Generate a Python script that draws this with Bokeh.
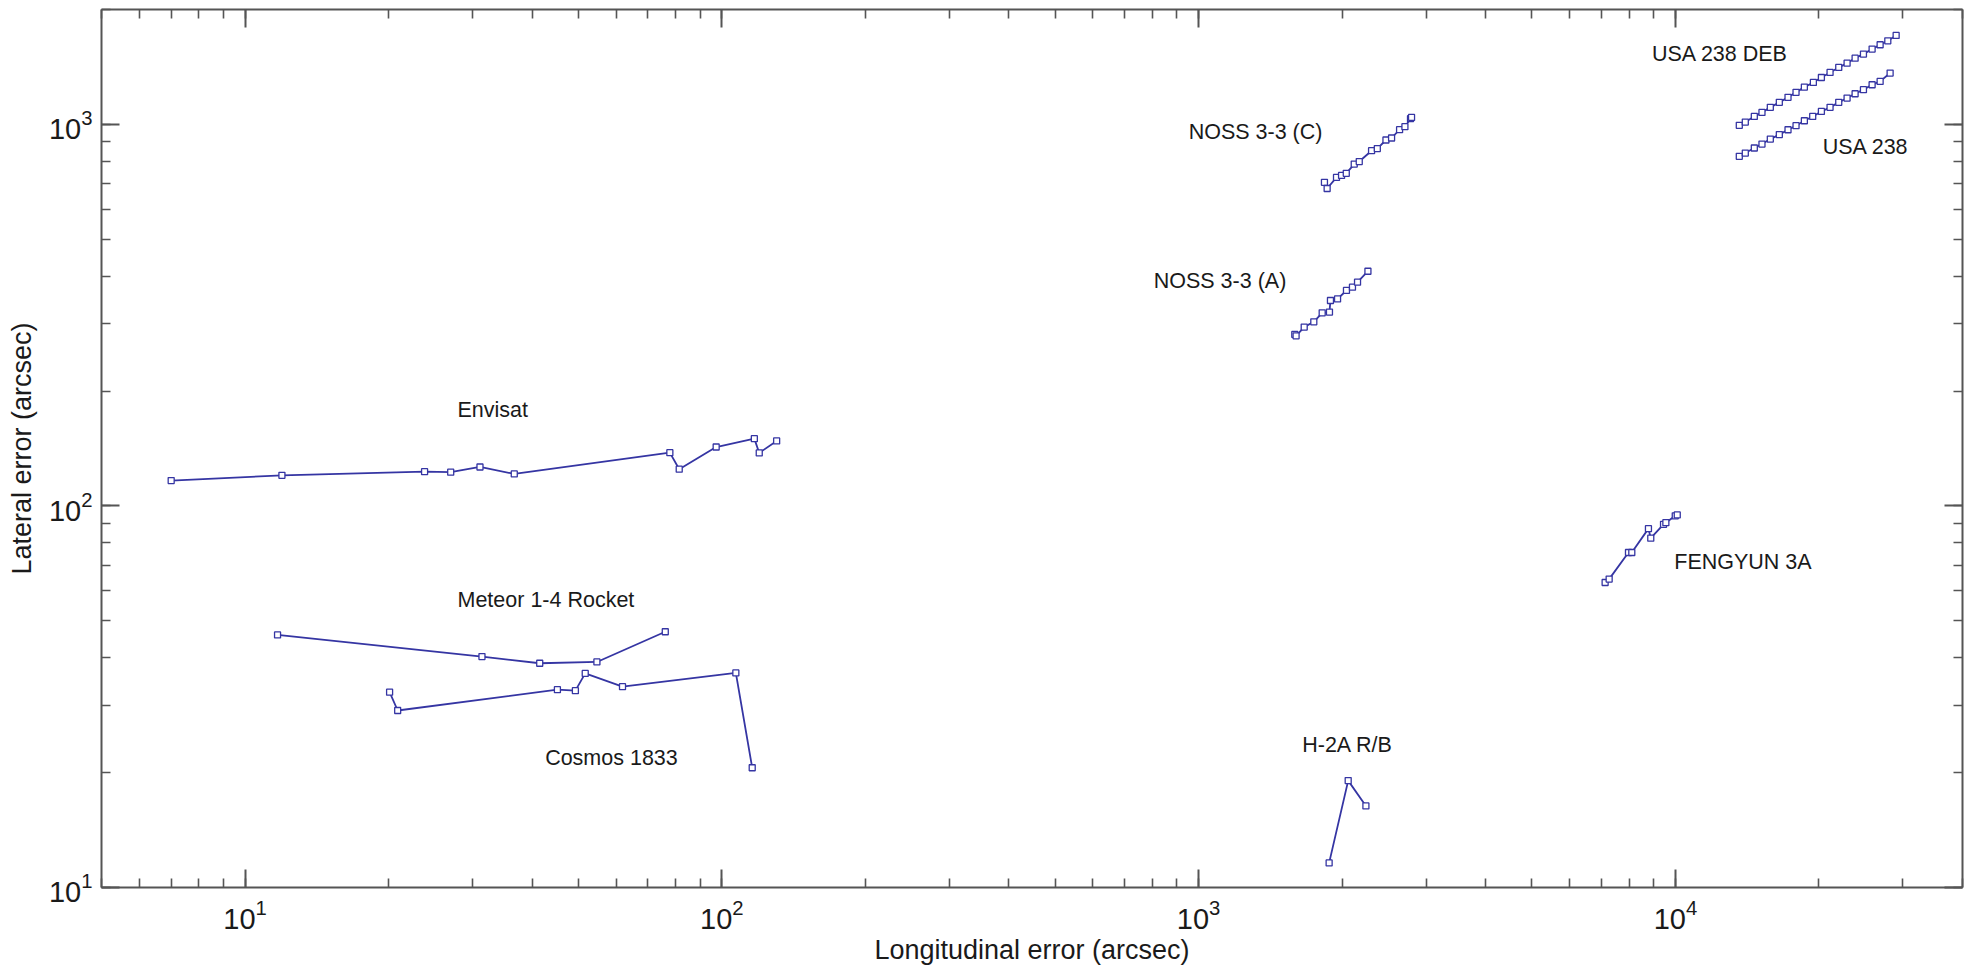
from bokeh.plotting import figure
from bokeh.models import LogAxis, LogTicker, ColumnDataSource
from bokeh.core.properties import value
from bokeh.embed import file_html
from bokeh.resources import INLINE

# ---------------- data ----------------
envisat_x = [7.0, 11.95, 23.8, 27.0, 31.1, 36.7, 77.8, 81.4, 97.3, 117.0, 119.8, 130.3]
envisat_y = [116.5, 120.3, 123.0, 122.6, 126.5, 121.3, 137.9, 124.8, 142.7, 150.1, 137.7, 148.0]

meteor_x = [11.7, 31.4, 41.5, 54.7, 76.1]
meteor_y = [45.9, 40.3, 38.7, 39.0, 46.8]

cosmos_x = [20.1, 20.9, 45.2, 49.3, 51.7, 61.9, 107.0, 115.8]
cosmos_y = [32.5, 29.1, 33.0, 32.8, 36.4, 33.6, 36.5, 20.6]

noss_a_x = [1591, 1601, 1665, 1744, 1816, 1881, 1890, 1956, 2042, 2102, 2154, 2265]
noss_a_y = [281.5, 279.1, 294.2, 303.8, 320.7, 322.1, 345.5, 348.8, 367.0, 374.4, 385.8, 412.2]

noss_c_x = [1836, 1860, 1946, 1994, 2040, 2120, 2172, 2305, 2370, 2471, 2539, 2639, 2708, 2782, 2796]
noss_c_y = [705, 679, 726, 735, 744, 787, 799, 853, 864, 910, 921, 968.5, 986, 1035, 1043]

usa_deb_x = [13612, 14013, 14636, 15188, 15812, 16515, 17223, 17903, 18639, 19467,
             20235, 21100, 22004, 22909, 23813, 24792, 25852, 26872, 27886, 29033]
usa_deb_y = [994, 1014, 1049, 1075, 1108, 1142, 1177, 1213, 1252, 1288,
             1327, 1368, 1410, 1447, 1491, 1528, 1575, 1617, 1656, 1710]

usa_x = [13612, 14013, 14636, 15188, 15812, 16515, 17223, 17903, 18639, 19404,
         20235, 21100, 22004, 22909, 23813, 24792, 25852, 26872, 28200]
usa_y = [824.7, 841, 867, 888, 915, 940, 968, 992, 1022, 1049,
         1081, 1108, 1142, 1172, 1203, 1233, 1270, 1296, 1363]

fengyun_x = [7121, 7261, 7971, 8100, 8778, 8877, 9441, 9548, 9991, 10088]
fengyun_y = [63.0, 64.3, 75.5, 75.5, 87.2, 82.3, 89.5, 90.4, 94.2, 94.7]

h2a_x = [1878, 2059, 2243]
h2a_y = [11.6, 19.06, 16.36]

series = [
    (envisat_x, envisat_y),
    (meteor_x, meteor_y),
    (cosmos_x, cosmos_y),
    (noss_a_x, noss_a_y),
    (noss_c_x, noss_c_y),
    (usa_deb_x, usa_deb_y),
    (usa_x, usa_y),
    (fengyun_x, fengyun_y),
    (h2a_x, h2a_y),
]

# object labels and where they sit (data coordinates, left edge / middle)
label_text = ["Envisat", "Meteor 1-4 Rocket", "Cosmos 1833", "NOSS 3-3 (C)", "NOSS 3-3 (A)",
              "USA 238 DEB", "USA 238", "FENGYUN 3A", "H-2A R/B"]
label_x = [27.9, 27.9, 42.6, 953, 805, 8925, 20365, 9943, 1649]
label_y = [178.4, 56.8, 21.9, 953, 388, 1525, 871, 71.4, 23.7]

x_title = "Longitudinal error (arcsec)"
y_title = "Lateral error (arcsec)"

# ---------------- figure ----------------
LINE = "#3535a3"
AX = "#555555"
FONT = "Liberation Sans"

p = figure(width=1966, height=975, x_axis_type="log", y_axis_type="log",
           x_range=(5, 4e4), y_range=(9.9999, 2000),
           output_backend="svg", toolbar_location=None,
           min_border_left=101, min_border_right=4, min_border_top=9, min_border_bottom=88)
p.grid.visible = False
p.outline_line_color = None
p.background_fill_color = "white"
p.border_fill_color = "white"

for xs, ys in series:
    src = ColumnDataSource(dict(x=xs, y=ys))
    p.line("x", "y", source=src, line_color=LINE, line_width=1.8)
    p.scatter("x", "y", source=src, marker="square", size=6,
              line_color=LINE, line_width=1.3, fill_color="white")

p.text(x=label_x, y=label_y, text=label_text, text_font=value(FONT),
       text_font_size="21.5px", text_color="#1a1a1a",
       text_align="left", text_baseline="middle")


def style(ax, labels=True):
    ax.ticker = LogTicker(num_minor_ticks=10)
    ax.axis_line_color = AX
    ax.axis_line_width = 2
    ax.major_tick_line_color = AX
    ax.major_tick_line_width = 2
    ax.major_tick_in = 18
    ax.major_tick_out = 0
    ax.minor_tick_line_color = AX
    ax.minor_tick_line_width = 1.6
    ax.minor_tick_in = 9
    ax.minor_tick_out = 0
    if labels:
        ax.major_label_text_font = FONT
        ax.major_label_text_font_size = "29px"
        ax.major_label_text_color = "#1a1a1a"
        ax.axis_label_text_font = FONT
        ax.axis_label_text_font_size = "27px"
        ax.axis_label_text_font_style = "normal"
        ax.axis_label_text_color = "#1a1a1a"
    else:
        ax.major_label_text_font_size = "2px"
        ax.major_label_text_alpha = 0
        ax.major_label_standoff = 0


xa = p.xaxis[0]
ya = p.yaxis[0]
style(xa)
style(ya)
xa.axis_label = x_title
ya.axis_label = y_title
xa.major_label_standoff = 11
xa.axis_label_standoff = 3
ya.major_label_standoff = 9
ya.axis_label_standoff = 9

top = LogAxis()
right = LogAxis()
style(top, labels=False)
style(right, labels=False)
p.add_layout(top, "above")
p.add_layout(right, "right")

open("out.html", "w").write(file_html(p, INLINE))
